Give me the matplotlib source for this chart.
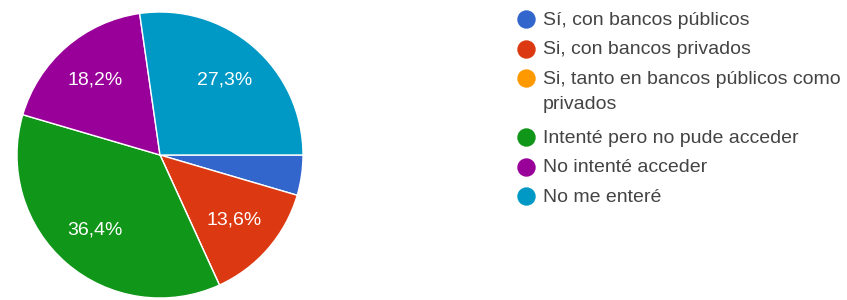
import matplotlib.pyplot as plt

plt.rcParams["font.family"] = ["Liberation Sans", "DejaVu Sans"]

categorias = [
    "Sí, con bancos públicos",
    "Si, con bancos privados",
    "Si, tanto en bancos públicos como\nprivados",
    "Intenté pero no pude acceder",
    "No intenté acceder",
    "No me enteré",
]
respuestas = [1, 3, 0, 8, 4, 6]
colores = ["#3366cc", "#dc3912", "#ff9900", "#109618", "#990099", "#0099c6"]


def etiqueta(pct):
    # Google Forms oculta el porcentaje en porciones pequeñas
    if pct < 5:
        return ""
    return f"{pct:.1f}%".replace(".", ",")


fig = plt.figure(figsize=(8.47, 3.0), dpi=100)

# pastel
ax = fig.add_axes([17 / 847, 2 / 300, 286 / 847, 286 / 300])
wedges, textos, autotextos = ax.pie(
    respuestas,
    colors=colores,
    startangle=0,
    counterclock=False,
    autopct=etiqueta,
    pctdistance=0.69,
    wedgeprops=dict(edgecolor="white", linewidth=1),
    textprops=dict(color="white", fontsize=14),
)
ax.set_xlim(-1, 1)
ax.set_ylim(-1, 1)
ax.set_aspect("equal")

# leyenda a mano (en pixeles) para controlar el interlineado
lax = fig.add_axes([0, 0, 1, 1])
lax.set_xlim(0, 847)
lax.set_ylim(300, 0)
lax.axis("off")

paso = 29.5
y = 19
for cat, col in zip(categorias, colores):
    lax.scatter([526], [y], s=(17 * 0.72) ** 2, color=col, zorder=3)
    for i, linea in enumerate(cat.split("\n")):
        lax.text(543, y + 6 + 25 * i, linea, fontsize=14, color="#444444",
                 va="baseline", ha="left")
    y += paso * (cat.count("\n") + 1)

fig.savefig("out.png", dpi=100)
